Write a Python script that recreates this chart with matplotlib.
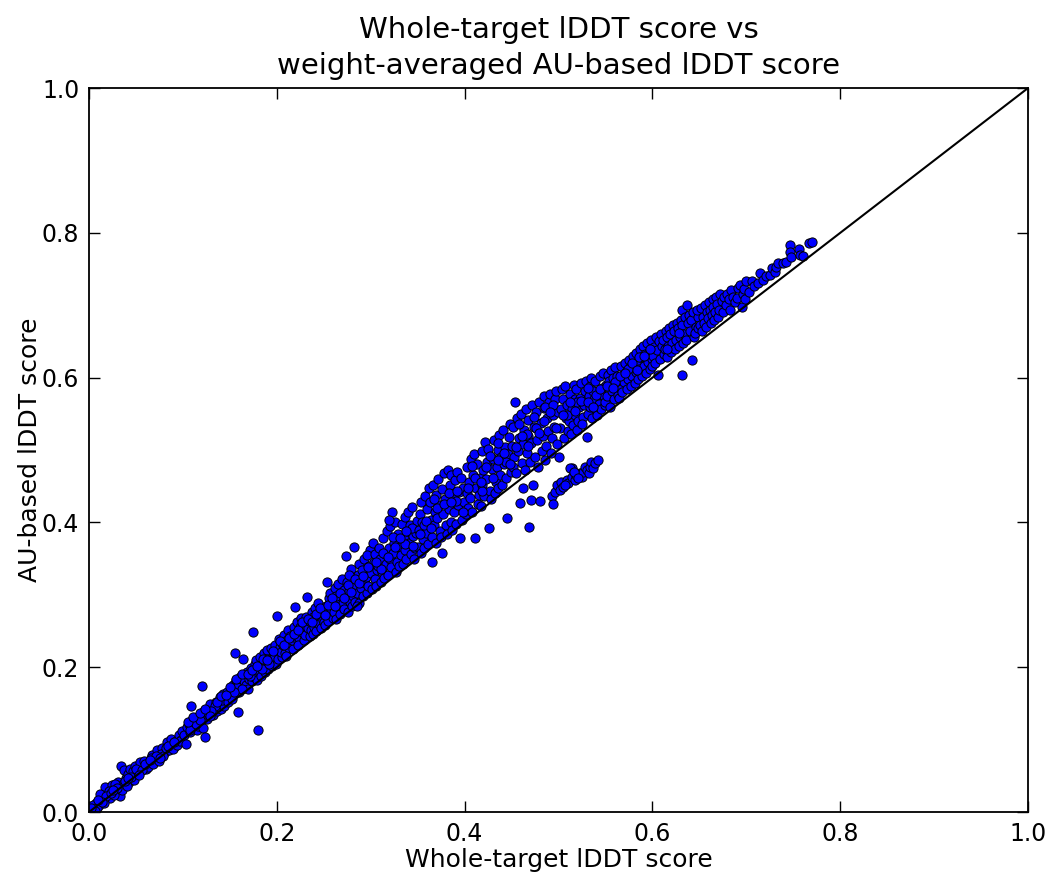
import matplotlib
matplotlib.use("Agg")
import matplotlib.pyplot as plt

# (whole-target lDDT, AU-based lDDT) pairs, grouped by x range
band_000_010 = [
    (0.003, 0.004), (0.007, 0.013), (0.011, 0.009), (0.004, 0.010), (0.015, 0.021), (0.009, 0.006),
    (0.019, 0.027), (0.013, 0.017), (0.022, 0.020), (0.017, 0.034), (0.026, 0.031), (0.006, 0.002),
    (0.024, 0.037), (0.029, 0.028), (0.016, 0.013), (0.033, 0.022), (0.031, 0.042), (0.021, 0.029),
    (0.036, 0.038), (0.012, 0.025), (0.034, 0.063), (0.027, 0.024), (0.039, 0.047), (0.032, 0.035),
    (0.043, 0.041), (0.037, 0.058), (0.041, 0.052), (0.018, 0.022), (0.046, 0.049), (0.044, 0.060),
    (0.028, 0.039), (0.048, 0.044), (0.035, 0.030), (0.047, 0.057), (0.040, 0.036), (0.023, 0.026),
    (0.045, 0.048), (0.049, 0.063), (0.030, 0.033), (0.038, 0.043), (0.014, 0.014), (0.042, 0.047),
    (0.002, 0.006), (0.025, 0.030), (0.010, 0.016),
    (0.052, 0.055), (0.057, 0.066), (0.054, 0.069), (0.061, 0.059), (0.059, 0.071), (0.064, 0.068),
    (0.050, 0.060), (0.067, 0.079), (0.063, 0.062), (0.070, 0.073), (0.056, 0.058), (0.072, 0.085),
    (0.068, 0.066), (0.075, 0.078), (0.066, 0.074), (0.078, 0.088), (0.074, 0.071), (0.081, 0.083),
    (0.077, 0.080), (0.083, 0.096), (0.085, 0.086), (0.079, 0.077), (0.088, 0.094), (0.082, 0.089),
    (0.091, 0.090), (0.087, 0.101), (0.093, 0.098), (0.089, 0.087), (0.096, 0.107), (0.094, 0.093),
    (0.098, 0.100), (0.060, 0.066), (0.071, 0.077), (0.084, 0.091), (0.097, 0.098), (0.053, 0.051),
    (0.065, 0.072), (0.076, 0.074), (0.090, 0.096), (0.099, 0.112),
]

band_010_020 = [
    (0.101, 0.106), (0.104, 0.117), (0.103, 0.094), (0.107, 0.110), (0.109, 0.146), (0.106, 0.121),
    (0.112, 0.118), (0.110, 0.127), (0.115, 0.113), (0.113, 0.130), (0.117, 0.125), (0.119, 0.135),
    (0.120, 0.174), (0.116, 0.119), (0.121, 0.116), (0.123, 0.131), (0.124, 0.104), (0.122, 0.140),
    (0.126, 0.128), (0.128, 0.143), (0.125, 0.135), (0.131, 0.135), (0.129, 0.149), (0.133, 0.141),
    (0.135, 0.152), (0.132, 0.134), (0.137, 0.146), (0.139, 0.159), (0.136, 0.139), (0.141, 0.148),
    (0.143, 0.163), (0.140, 0.142), (0.145, 0.151), (0.147, 0.166), (0.144, 0.146), (0.149, 0.158),
    (0.108, 0.113), (0.114, 0.122), (0.127, 0.137), (0.134, 0.147), (0.142, 0.155), (0.148, 0.152),
    (0.118, 0.127), (0.130, 0.140),
    (0.151, 0.162), (0.153, 0.175), (0.155, 0.220), (0.152, 0.156), (0.157, 0.170), (0.159, 0.138),
    (0.156, 0.183), (0.160, 0.166), (0.162, 0.178), (0.164, 0.212), (0.161, 0.186), (0.166, 0.172),
    (0.165, 0.181), (0.168, 0.193), (0.167, 0.176), (0.170, 0.184), (0.172, 0.199), (0.169, 0.170),
    (0.174, 0.181), (0.175, 0.248), (0.173, 0.190), (0.177, 0.205), (0.176, 0.186), (0.179, 0.183),
    (0.180, 0.113), (0.181, 0.195), (0.178, 0.210), (0.183, 0.188), (0.185, 0.201), (0.182, 0.214),
    (0.187, 0.194), (0.186, 0.219), (0.189, 0.206), (0.191, 0.197), (0.190, 0.224), (0.193, 0.211),
    (0.195, 0.201), (0.194, 0.226), (0.197, 0.214), (0.199, 0.205), (0.198, 0.231), (0.158, 0.172),
    (0.163, 0.170), (0.171, 0.188), (0.184, 0.197), (0.192, 0.205), (0.154, 0.166), (0.188, 0.212),
]

band_020_030 = [
    (0.200, 0.271), (0.201, 0.212), (0.203, 0.228), (0.202, 0.239), (0.205, 0.214), (0.206, 0.233),
    (0.204, 0.221), (0.208, 0.245), (0.209, 0.220), (0.207, 0.231), (0.211, 0.238), (0.213, 0.226),
    (0.212, 0.251), (0.215, 0.233), (0.214, 0.243), (0.217, 0.225), (0.219, 0.283), (0.218, 0.255),
    (0.216, 0.238), (0.220, 0.246), (0.222, 0.236), (0.221, 0.262), (0.224, 0.241), (0.225, 0.255),
    (0.223, 0.231), (0.227, 0.249), (0.226, 0.268), (0.229, 0.238), (0.228, 0.258), (0.230, 0.245),
    (0.232, 0.297), (0.231, 0.270), (0.233, 0.254), (0.235, 0.243), (0.234, 0.264), (0.237, 0.276),
    (0.236, 0.252), (0.239, 0.246), (0.238, 0.262), (0.241, 0.282), (0.240, 0.256), (0.243, 0.268),
    (0.242, 0.250), (0.245, 0.260), (0.244, 0.288), (0.247, 0.254), (0.246, 0.273), (0.249, 0.265),
    (0.248, 0.278), (0.210, 0.216), (0.239, 0.270),
    (0.250, 0.262), (0.252, 0.284), (0.251, 0.258), (0.253, 0.318), (0.254, 0.272), (0.256, 0.295),
    (0.255, 0.264), (0.258, 0.278), (0.257, 0.303), (0.260, 0.268), (0.259, 0.288), (0.262, 0.310),
    (0.261, 0.276), (0.264, 0.291), (0.263, 0.266), (0.266, 0.283), (0.265, 0.315), (0.268, 0.300),
    (0.267, 0.274), (0.270, 0.289), (0.269, 0.322), (0.272, 0.281), (0.271, 0.307), (0.274, 0.353),
    (0.273, 0.296), (0.276, 0.276), (0.275, 0.318), (0.278, 0.290), (0.277, 0.305), (0.280, 0.284),
    (0.279, 0.336), (0.282, 0.366), (0.281, 0.298), (0.284, 0.314), (0.283, 0.290), (0.286, 0.327),
    (0.285, 0.302), (0.288, 0.289), (0.287, 0.342), (0.290, 0.309), (0.289, 0.320), (0.292, 0.298),
    (0.291, 0.334), (0.294, 0.316), (0.293, 0.350), (0.296, 0.303), (0.295, 0.325), (0.298, 0.340),
    (0.297, 0.312), (0.299, 0.362), (0.300, 0.330), (0.263, 0.298), (0.277, 0.327), (0.285, 0.285),
    (0.296, 0.355),
]

band_030_040 = [
    (0.301, 0.308), (0.303, 0.345), (0.302, 0.372), (0.305, 0.322), (0.304, 0.356), (0.307, 0.334),
    (0.306, 0.312), (0.309, 0.364), (0.308, 0.340), (0.311, 0.318), (0.310, 0.350), (0.313, 0.378),
    (0.312, 0.331), (0.315, 0.356), (0.314, 0.323), (0.317, 0.388), (0.316, 0.342), (0.319, 0.365),
    (0.318, 0.328), (0.321, 0.350), (0.320, 0.395), (0.323, 0.414), (0.322, 0.338), (0.325, 0.372),
    (0.324, 0.358), (0.327, 0.332), (0.326, 0.400), (0.329, 0.384), (0.328, 0.346), (0.331, 0.366),
    (0.330, 0.340), (0.333, 0.398), (0.332, 0.355), (0.335, 0.378), (0.334, 0.343), (0.337, 0.408),
    (0.336, 0.362), (0.339, 0.388), (0.338, 0.350), (0.341, 0.372), (0.340, 0.415), (0.343, 0.356),
    (0.342, 0.396), (0.345, 0.381), (0.344, 0.421), (0.347, 0.364), (0.346, 0.349), (0.349, 0.402),
    (0.348, 0.385), (0.311, 0.335), (0.319, 0.404), (0.326, 0.366), (0.337, 0.370), (0.344, 0.392),
    (0.350, 0.366), (0.352, 0.412), (0.351, 0.390), (0.354, 0.358), (0.353, 0.428), (0.356, 0.377),
    (0.355, 0.400), (0.358, 0.436), (0.357, 0.364), (0.360, 0.418), (0.359, 0.386), (0.362, 0.448),
    (0.361, 0.370), (0.364, 0.404), (0.363, 0.428), (0.365, 0.345), (0.366, 0.452), (0.365, 0.380),
    (0.368, 0.414), (0.367, 0.396), (0.370, 0.438), (0.369, 0.372), (0.372, 0.460), (0.371, 0.406),
    (0.374, 0.388), (0.373, 0.424), (0.376, 0.358), (0.376, 0.446), (0.375, 0.380), (0.378, 0.468),
    (0.377, 0.412), (0.380, 0.396), (0.379, 0.432), (0.382, 0.472), (0.381, 0.384), (0.384, 0.452),
    (0.383, 0.418), (0.386, 0.466), (0.385, 0.400), (0.388, 0.436), (0.387, 0.390), (0.390, 0.458),
    (0.389, 0.414), (0.392, 0.470), (0.391, 0.398), (0.394, 0.442), (0.393, 0.424), (0.395, 0.378),
    (0.396, 0.462), (0.397, 0.404), (0.398, 0.448), (0.399, 0.428), (0.357, 0.396), (0.367, 0.432),
    (0.383, 0.440), (0.391, 0.430),
]

band_040_050 = [
    (0.401, 0.412), (0.403, 0.476), (0.402, 0.440), (0.405, 0.456), (0.404, 0.420), (0.407, 0.488),
    (0.406, 0.434), (0.409, 0.466), (0.408, 0.414), (0.411, 0.378), (0.410, 0.494), (0.412, 0.448),
    (0.414, 0.426), (0.413, 0.480), (0.416, 0.462), (0.415, 0.438), (0.418, 0.498), (0.417, 0.422),
    (0.420, 0.472), (0.419, 0.452), (0.422, 0.511), (0.421, 0.436), (0.424, 0.484), (0.423, 0.460),
    (0.426, 0.392), (0.425, 0.502), (0.427, 0.444), (0.429, 0.474), (0.428, 0.432), (0.431, 0.514),
    (0.430, 0.488), (0.433, 0.456), (0.432, 0.440), (0.435, 0.500), (0.434, 0.476), (0.437, 0.521),
    (0.436, 0.448), (0.439, 0.490), (0.438, 0.466), (0.441, 0.528), (0.440, 0.452), (0.443, 0.504),
    (0.442, 0.480), (0.445, 0.406), (0.444, 0.462), (0.447, 0.518), (0.446, 0.494), (0.449, 0.470),
    (0.448, 0.536), (0.408, 0.478), (0.418, 0.444), (0.427, 0.492), (0.436, 0.510), (0.444, 0.484),
    (0.450, 0.506), (0.452, 0.476), (0.451, 0.532), (0.454, 0.566), (0.453, 0.490), (0.456, 0.544),
    (0.455, 0.468), (0.458, 0.516), (0.457, 0.498), (0.459, 0.427), (0.460, 0.550), (0.461, 0.482),
    (0.462, 0.447), (0.463, 0.528), (0.462, 0.508), (0.465, 0.556), (0.464, 0.472), (0.467, 0.520),
    (0.466, 0.496), (0.469, 0.394), (0.468, 0.542), (0.470, 0.484), (0.471, 0.431), (0.472, 0.562),
    (0.471, 0.510), (0.473, 0.452), (0.474, 0.532), (0.475, 0.490), (0.476, 0.552), (0.477, 0.514),
    (0.478, 0.476), (0.480, 0.429), (0.479, 0.566), (0.481, 0.538), (0.482, 0.498), (0.484, 0.558),
    (0.483, 0.520), (0.486, 0.486), (0.485, 0.574), (0.488, 0.544), (0.487, 0.506), (0.490, 0.566),
    (0.489, 0.526), (0.492, 0.496), (0.491, 0.578), (0.494, 0.548), (0.493, 0.516), (0.496, 0.570),
    (0.495, 0.532), (0.498, 0.508), (0.497, 0.582), (0.499, 0.552), (0.458, 0.536), (0.466, 0.522),
    (0.476, 0.530), (0.486, 0.560), (0.494, 0.562),
]

band_050_060 = [
    (0.501, 0.491), (0.502, 0.530), (0.504, 0.584), (0.503, 0.556), (0.506, 0.516), (0.505, 0.570),
    (0.508, 0.544), (0.507, 0.588), (0.510, 0.526), (0.509, 0.562), (0.512, 0.578), (0.511, 0.540),
    (0.514, 0.475), (0.514, 0.556), (0.513, 0.522), (0.516, 0.590), (0.515, 0.534), (0.518, 0.570),
    (0.517, 0.548), (0.520, 0.528), (0.519, 0.584), (0.522, 0.560), (0.521, 0.540), (0.524, 0.592),
    (0.523, 0.572), (0.526, 0.546), (0.525, 0.536), (0.528, 0.582), (0.527, 0.562), (0.530, 0.518),
    (0.529, 0.596), (0.531, 0.550), (0.532, 0.574), (0.534, 0.588), (0.533, 0.560), (0.536, 0.544),
    (0.535, 0.600), (0.538, 0.570), (0.537, 0.582), (0.540, 0.556), (0.539, 0.596), (0.542, 0.576),
    (0.541, 0.548), (0.544, 0.602), (0.543, 0.564), (0.546, 0.586), (0.545, 0.556), (0.548, 0.574),
    (0.547, 0.606), (0.549, 0.562), (0.509, 0.548), (0.520, 0.566), (0.531, 0.585), (0.540, 0.576),
    (0.551, 0.590), (0.550, 0.566), (0.553, 0.604), (0.552, 0.574), (0.555, 0.560), (0.554, 0.596),
    (0.557, 0.582), (0.556, 0.610), (0.559, 0.570), (0.558, 0.600), (0.561, 0.588), (0.560, 0.614),
    (0.563, 0.576), (0.562, 0.602), (0.565, 0.592), (0.564, 0.572), (0.567, 0.616), (0.566, 0.584),
    (0.569, 0.604), (0.568, 0.580), (0.571, 0.620), (0.570, 0.594), (0.573, 0.584), (0.572, 0.608),
    (0.575, 0.624), (0.574, 0.598), (0.577, 0.588), (0.576, 0.614), (0.579, 0.630), (0.578, 0.602),
    (0.581, 0.592), (0.580, 0.618), (0.583, 0.608), (0.582, 0.634), (0.585, 0.598), (0.584, 0.622),
    (0.587, 0.640), (0.586, 0.612), (0.589, 0.602), (0.588, 0.628), (0.591, 0.616), (0.590, 0.644),
    (0.593, 0.606), (0.592, 0.632), (0.595, 0.622), (0.594, 0.648), (0.597, 0.612), (0.596, 0.636),
    (0.599, 0.626), (0.598, 0.652), (0.560, 0.594), (0.574, 0.612), (0.586, 0.628),
]

band_060_078 = [
    (0.600, 0.616), (0.602, 0.642), (0.601, 0.630), (0.604, 0.656), (0.603, 0.620), (0.606, 0.604),
    (0.605, 0.638), (0.607, 0.650), (0.608, 0.626), (0.610, 0.644), (0.609, 0.660), (0.612, 0.632),
    (0.611, 0.652), (0.614, 0.664), (0.613, 0.640), (0.616, 0.628), (0.615, 0.656), (0.618, 0.668),
    (0.617, 0.644), (0.620, 0.636), (0.619, 0.660), (0.622, 0.672), (0.621, 0.648), (0.624, 0.640),
    (0.623, 0.664), (0.626, 0.676), (0.625, 0.652), (0.628, 0.644), (0.627, 0.668), (0.630, 0.680),
    (0.629, 0.656), (0.631, 0.693), (0.632, 0.604), (0.633, 0.648), (0.632, 0.672), (0.635, 0.684),
    (0.634, 0.660), (0.637, 0.700), (0.636, 0.652), (0.639, 0.686), (0.638, 0.676), (0.640, 0.664),
    (0.642, 0.625), (0.641, 0.680), (0.644, 0.656), (0.643, 0.690), (0.646, 0.670), (0.645, 0.662),
    (0.648, 0.684), (0.647, 0.694), (0.649, 0.668), (0.615, 0.640), (0.628, 0.662),
    (0.651, 0.672), (0.652, 0.696), (0.654, 0.684), (0.653, 0.664), (0.656, 0.700), (0.655, 0.676),
    (0.658, 0.690), (0.657, 0.670), (0.660, 0.704), (0.659, 0.682), (0.662, 0.676), (0.661, 0.694),
    (0.664, 0.708), (0.663, 0.686), (0.666, 0.680), (0.665, 0.698), (0.668, 0.712), (0.667, 0.690),
    (0.670, 0.684), (0.669, 0.702), (0.672, 0.716), (0.671, 0.694), (0.674, 0.706), (0.675, 0.690),
    (0.676, 0.712), (0.678, 0.700), (0.679, 0.716), (0.681, 0.708), (0.683, 0.694), (0.684, 0.721),
    (0.686, 0.712), (0.688, 0.704), (0.690, 0.710), (0.691, 0.724), (0.693, 0.728), (0.695, 0.698),
    (0.696, 0.716), (0.698, 0.722), (0.699, 0.708),
    (0.700, 0.733), (0.703, 0.718), (0.706, 0.733), (0.708, 0.726), (0.712, 0.730), (0.715, 0.744),
    (0.718, 0.735), (0.721, 0.740), (0.725, 0.742), (0.727, 0.751), (0.730, 0.746), (0.732, 0.753),
    (0.734, 0.758), (0.739, 0.758), (0.742, 0.760), (0.747, 0.783), (0.747, 0.774), (0.748, 0.766),
    (0.756, 0.778), (0.757, 0.769), (0.760, 0.768), (0.767, 0.786), (0.770, 0.788),
]

# points filling the upper half of the band
band_fill = [
    (0.105, 0.125), (0.111, 0.131), (0.118, 0.137), (0.124, 0.142), (0.129, 0.133), (0.136, 0.152),
    (0.141, 0.160), (0.146, 0.162), (0.150, 0.172), (0.157, 0.184), (0.163, 0.190), (0.169, 0.191),
    (0.174, 0.196), (0.179, 0.202), (0.185, 0.212), (0.190, 0.210), (0.196, 0.222),
    (0.203, 0.236), (0.208, 0.230), (0.213, 0.240), (0.218, 0.246), (0.222, 0.252), (0.227, 0.262),
    (0.233, 0.266), (0.237, 0.262), (0.242, 0.274), (0.246, 0.282), (0.251, 0.272), (0.255, 0.286),
    (0.259, 0.296), (0.262, 0.284), (0.267, 0.302), (0.271, 0.296), (0.276, 0.314), (0.279, 0.304),
    (0.283, 0.322), (0.288, 0.316), (0.292, 0.326), (0.297, 0.338),
    (0.306, 0.346), (0.313, 0.358), (0.318, 0.352), (0.324, 0.380), (0.331, 0.378), (0.338, 0.388),
    (0.345, 0.368), (0.352, 0.384), (0.359, 0.402), (0.364, 0.392), (0.371, 0.420), (0.378, 0.426),
    (0.385, 0.428), (0.392, 0.444), (0.398, 0.414),
    (0.404, 0.448), (0.411, 0.462), (0.417, 0.456), (0.423, 0.476), (0.430, 0.462), (0.436, 0.486),
    (0.442, 0.496), (0.448, 0.480), (0.455, 0.504), (0.461, 0.520), (0.467, 0.506), (0.474, 0.546),
    (0.479, 0.524), (0.485, 0.540), (0.491, 0.552), (0.497, 0.530),
    (0.505, 0.548), (0.512, 0.566), (0.518, 0.554), (0.524, 0.568), (0.531, 0.566), (0.537, 0.560),
    (0.544, 0.584), (0.552, 0.588), (0.558, 0.586), (0.565, 0.602), (0.571, 0.606), (0.578, 0.620),
    (0.584, 0.610), (0.591, 0.630), (0.597, 0.640),
]

# the separate group below the diagonal around x = 0.5
lower_branch = [
    (0.493, 0.436), (0.494, 0.426), (0.496, 0.442), (0.498, 0.452), (0.502, 0.445), (0.503, 0.456),
    (0.505, 0.449), (0.509, 0.459), (0.510, 0.454), (0.512, 0.475), (0.514, 0.463), (0.518, 0.459),
    (0.519, 0.466), (0.523, 0.468), (0.525, 0.463), (0.526, 0.470), (0.528, 0.477), (0.530, 0.472),
    (0.532, 0.468), (0.534, 0.477), (0.535, 0.484), (0.537, 0.475), (0.539, 0.482), (0.542, 0.486),
    (0.516, 0.470), (0.521, 0.461), (0.507, 0.452),
]

groups = [band_000_010, band_010_020, band_020_030, band_030_040, band_040_050,
          band_050_060, band_060_078, band_fill, lower_branch]
whole_target = [p[0] for g in groups for p in g]
au_based = [p[1] for g in groups for p in g]

fig = plt.figure(figsize=(10.5, 8.75), dpi=100)
ax = fig.add_axes([0.0848, 0.072, 0.8943, 0.8274])

ax.scatter(whole_target, au_based, s=44, c="#0000ff", edgecolors="black",
           linewidths=0.7, zorder=2)
ax.plot([0, 1], [0, 1], color="black", lw=1.5, zorder=3)

ax.set_xlim(0, 1)
ax.set_ylim(0, 1)
ax.set_xticks([0.0, 0.2, 0.4, 0.6, 0.8, 1.0])
ax.set_yticks([0.0, 0.2, 0.4, 0.6, 0.8, 1.0])
ax.tick_params(direction="in", top=True, right=True, length=8, width=1,
               labelsize=17, pad=7)
for sp in ax.spines.values():
    sp.set_linewidth(1.3)

ax.set_xlabel("Whole-target lDDT score", fontsize=18, labelpad=2)
ax.set_ylabel("AU-based lDDT score", fontsize=18, labelpad=0)
ax.set_title("Whole-target lDDT score vs\nweight-averaged AU-based lDDT score",
             fontsize=21, pad=10, linespacing=1.35)

fig.savefig("out.png", dpi=100, facecolor="white")
